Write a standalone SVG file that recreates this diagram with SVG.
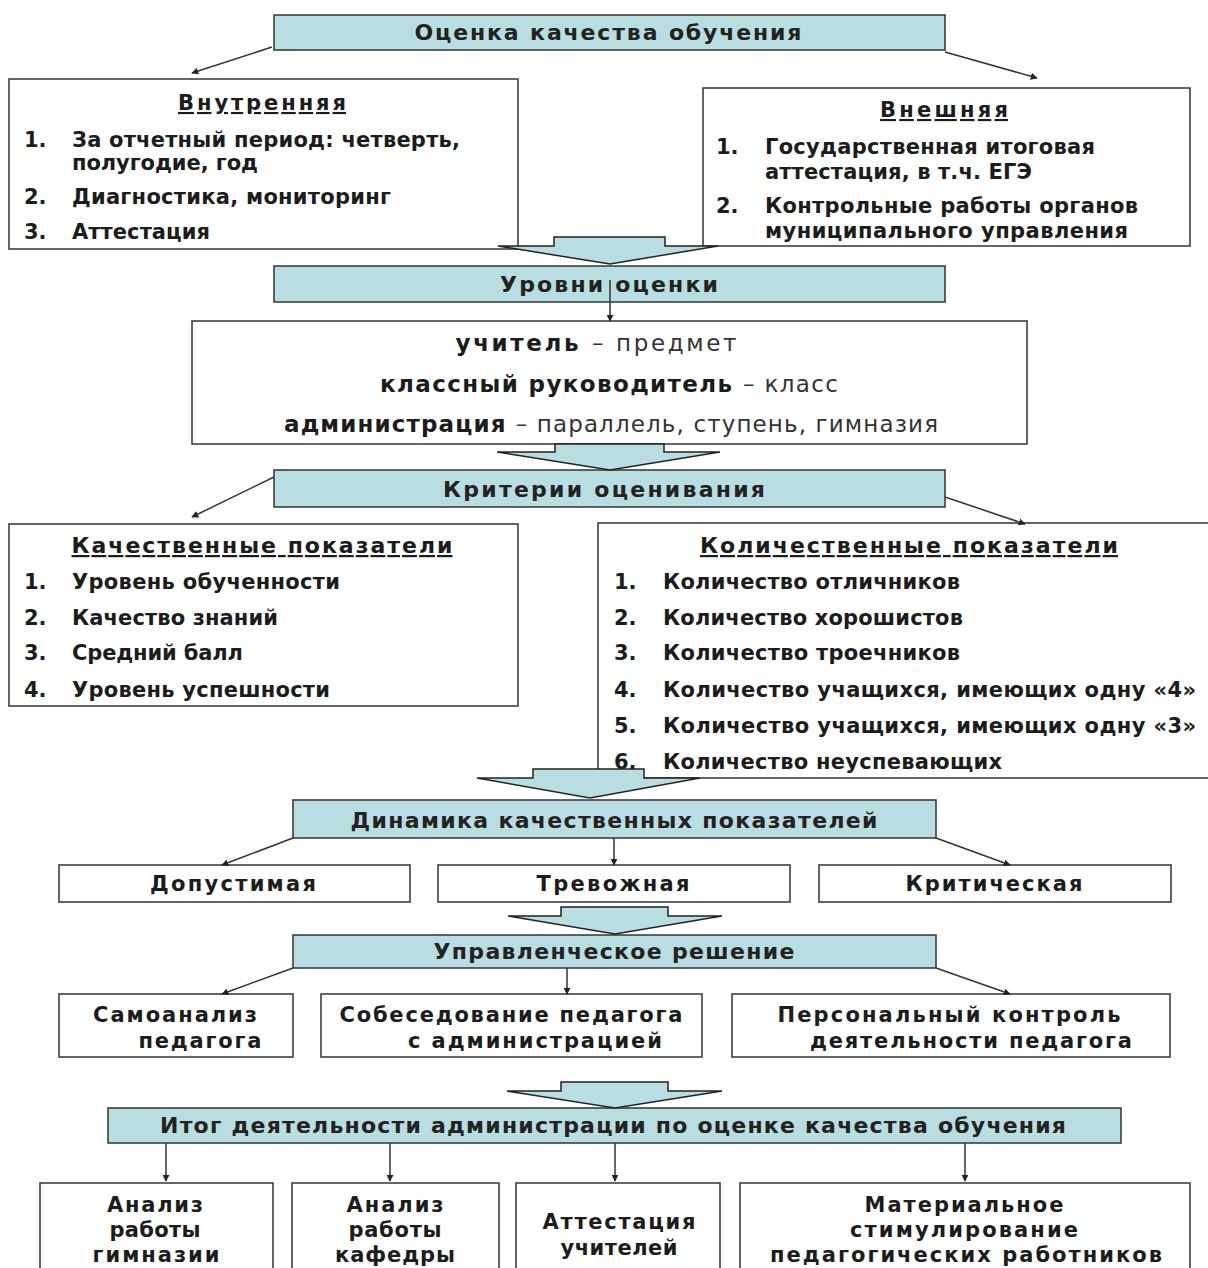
<svg xmlns="http://www.w3.org/2000/svg" width="1208" height="1268" viewBox="0 0 1208 1268">
<defs>
<style>
.box{fill:#fff;stroke:#333;stroke-width:1.5}
.teal{fill:#b9dee1;stroke:#333;stroke-width:1.5}
.blk{fill:#b9dee1;stroke:#222;stroke-width:1.5;stroke-linejoin:miter}
.t{font-family:"DejaVu Sans",Verdana,sans-serif;font-weight:bold;font-size:21px;fill:#1c1c1c}
.h{font-family:"DejaVu Sans",Verdana,sans-serif;font-weight:bold;font-size:22px;fill:#222}
.c{text-anchor:middle}
.u{text-decoration:underline}
.n{font-weight:normal;fill:#333}
.ln{fill:none;stroke:#333;stroke-width:1.5;marker-end:url(#ah)}
</style>
<marker id="ah" viewBox="0 0 10 10" refX="9" refY="5" markerWidth="7" markerHeight="7" markerUnits="userSpaceOnUse" orient="auto">
<path d="M0,0 L10,5 L0,10 z" fill="#222"/>
</marker>
</defs>
<rect width="1208" height="1268" fill="#fff"/>

<g id="n-top">
<rect class="teal" x="274" y="15" width="671" height="35"/>
<text class="h c" x="608" y="40" textLength="387" lengthAdjust="spacing">Оценка качества обучения</text>
</g>

<g id="n-internal">
<rect class="box" x="9" y="79" width="509" height="170"/>
<text class="t c u" x="262" y="110" textLength="168" lengthAdjust="spacing">Внутренняя</text>
<text class="t" x="24" y="147">1.</text>
<text class="t" x="72" y="147" textLength="388" lengthAdjust="spacing">За отчетный период: четверть,</text>
<text class="t" x="72" y="170" textLength="186" lengthAdjust="spacing">полугодие, год</text>
<text class="t" x="24" y="204">2.</text>
<text class="t" x="72" y="204" textLength="319" lengthAdjust="spacing">Диагностика, мониторинг</text>
<text class="t" x="24" y="239">3.</text>
<text class="t" x="72" y="239" textLength="138" lengthAdjust="spacing">Аттестация</text>
</g>

<g id="n-external">
<rect class="box" x="703" y="88" width="487" height="158"/>
<text class="t c u" x="944" y="117" textLength="128" lengthAdjust="spacing">Внешняя</text>
<text class="t" x="716" y="154">1.</text>
<text class="t" x="765" y="154" textLength="330" lengthAdjust="spacing">Государственная итоговая</text>
<text class="t" x="765" y="179" textLength="267" lengthAdjust="spacing">аттестация, в т.ч. ЕГЭ</text>
<text class="t" x="716" y="213">2.</text>
<text class="t" x="765" y="213" textLength="373" lengthAdjust="spacing">Контрольные работы органов</text>
<text class="t" x="765" y="238" textLength="363" lengthAdjust="spacing">муниципального управления</text>
</g>

<g id="n-levels">
<rect class="teal" x="274" y="266" width="671" height="36"/>
<text class="h c" x="609" y="292" textLength="218" lengthAdjust="spacing">Уровни оценки</text>
</g>

<g id="n-levels-list">
<rect class="box" x="192" y="321" width="835" height="123"/>
<text class="t c" x="596" y="351" style="font-size:23px" textLength="281" lengthAdjust="spacing">учитель <tspan class="n">– предмет</tspan></text>
<text class="t c" x="609" y="392" style="font-size:23px" textLength="458" lengthAdjust="spacing">классный руководитель <tspan class="n">– класс</tspan></text>
<text class="t c" x="611" y="432" style="font-size:23px" textLength="654" lengthAdjust="spacing">администрация <tspan class="n">– параллель, ступень, гимназия</tspan></text>
</g>

<g id="n-criteria">
<rect class="teal" x="274" y="470" width="671" height="37"/>
<text class="h c" x="604" y="497" textLength="322" lengthAdjust="spacing">Критерии оценивания</text>
</g>

<g id="n-qual">
<rect class="box" x="9" y="524" width="509" height="182"/>
<text class="t c u" x="262" y="553" style="font-size:22px" textLength="381" lengthAdjust="spacing">Качественные показатели</text>
<text class="t" x="24" y="589">1.</text>
<text class="t" x="72" y="589" textLength="268" lengthAdjust="spacing">Уровень обученности</text>
<text class="t" x="24" y="625">2.</text>
<text class="t" x="72" y="625" textLength="206" lengthAdjust="spacing">Качество знаний</text>
<text class="t" x="24" y="660">3.</text>
<text class="t" x="72" y="660" textLength="171" lengthAdjust="spacing">Средний балл</text>
<text class="t" x="24" y="697">4.</text>
<text class="t" x="72" y="697" textLength="258" lengthAdjust="spacing">Уровень успешности</text>
</g>

<g id="n-quant">
<rect class="box" x="598" y="523" width="620" height="255"/>
<text class="t c u" x="909" y="553" style="font-size:22px" textLength="418" lengthAdjust="spacing">Количественные показатели</text>
<text class="t" x="614" y="589">1.</text>
<text class="t" x="663" y="589" textLength="297" lengthAdjust="spacing">Количество отличников</text>
<text class="t" x="614" y="625">2.</text>
<text class="t" x="663" y="625" textLength="300" lengthAdjust="spacing">Количество хорошистов</text>
<text class="t" x="614" y="660">3.</text>
<text class="t" x="663" y="660" textLength="297" lengthAdjust="spacing">Количество троечников</text>
<text class="t" x="614" y="697">4.</text>
<text class="t" x="663" y="697" textLength="533" lengthAdjust="spacing">Количество учащихся, имеющих одну «4»</text>
<text class="t" x="614" y="733">5.</text>
<text class="t" x="663" y="733" textLength="533" lengthAdjust="spacing">Количество учащихся, имеющих одну «3»</text>
<text class="t" x="614" y="769">6.</text>
<text class="t" x="663" y="769" textLength="339" lengthAdjust="spacing">Количество неуспевающих</text>
</g>

<g id="n-dynamics">
<rect class="teal" x="293" y="800" width="643" height="38"/>
<text class="h c" x="614" y="828" textLength="527" lengthAdjust="spacing">Динамика качественных показателей</text>
</g>

<g id="n-acceptable">
<rect class="box" x="59" y="865" width="351" height="37"/>
<text class="t c" x="233" y="891" textLength="166" lengthAdjust="spacing">Допустимая</text>
</g>
<g id="n-alarming">
<rect class="box" x="438" y="865" width="352" height="37"/>
<text class="t c" x="613" y="891" textLength="153" lengthAdjust="spacing">Тревожная</text>
</g>
<g id="n-critical">
<rect class="box" x="819" y="865" width="352" height="37"/>
<text class="t c" x="994" y="891" textLength="177" lengthAdjust="spacing">Критическая</text>
</g>

<g id="n-decision">
<rect class="teal" x="293" y="935" width="643" height="33"/>
<text class="h c" x="614" y="959" textLength="361" lengthAdjust="spacing">Управленческое решение</text>
</g>

<g id="n-selfanalysis">
<rect class="box" x="59" y="994" width="234" height="63"/>
<text class="t c" x="175" y="1022" textLength="164" lengthAdjust="spacing">Самоанализ</text>
<text class="t c" x="200" y="1048" textLength="123" lengthAdjust="spacing">педагога</text>
</g>
<g id="n-interview">
<rect class="box" x="321" y="994" width="381" height="63"/>
<text class="t c" x="511" y="1022" textLength="343" lengthAdjust="spacing">Собеседование педагога</text>
<text class="t c" x="535" y="1048" textLength="254" lengthAdjust="spacing">с администрацией</text>
</g>
<g id="n-control">
<rect class="box" x="732" y="994" width="438" height="63"/>
<text class="t c" x="949" y="1022" textLength="343" lengthAdjust="spacing">Персональный контроль</text>
<text class="t c" x="971" y="1048" textLength="322" lengthAdjust="spacing">деятельности педагога</text>
</g>

<g id="n-result">
<rect class="teal" x="108" y="1108" width="1013" height="35"/>
<text class="h c" x="613" y="1133" textLength="906" lengthAdjust="spacing">Итог деятельности администрации по оценке качества обучения</text>
</g>

<g id="n-gym">
<rect class="box" x="40" y="1183" width="233" height="95"/>
<text class="t c" x="155" y="1212" textLength="96" lengthAdjust="spacing">Анализ</text>
<text class="t c" x="155" y="1237" textLength="91" lengthAdjust="spacing">работы</text>
<text class="t c" x="156" y="1262" textLength="127" lengthAdjust="spacing">гимназии</text>
</g>
<g id="n-dept">
<rect class="box" x="292" y="1183" width="207" height="95"/>
<text class="t c" x="395" y="1212" textLength="97" lengthAdjust="spacing">Анализ</text>
<text class="t c" x="395" y="1237" textLength="93" lengthAdjust="spacing">работы</text>
<text class="t c" x="395" y="1262" textLength="120" lengthAdjust="spacing">кафедры</text>
</g>
<g id="n-attest">
<rect class="box" x="516" y="1183" width="204" height="95"/>
<text class="t c" x="619" y="1229" textLength="153" lengthAdjust="spacing">Аттестация</text>
<text class="t c" x="619" y="1255" textLength="117" lengthAdjust="spacing">учителей</text>
</g>
<g id="n-stim">
<rect class="box" x="740" y="1183" width="450" height="95"/>
<text class="t c" x="964" y="1212" textLength="199" lengthAdjust="spacing">Материальное</text>
<text class="t c" x="964" y="1237" textLength="228" lengthAdjust="spacing">стимулирование</text>
<text class="t c" x="966" y="1262" textLength="392" lengthAdjust="spacing">педагогических работников</text>
</g>

<g id="connectors">
<line class="ln" x1="272" y1="47" x2="192" y2="73"/>
<line class="ln" x1="945" y1="52" x2="1037" y2="78"/>
<polygon class="blk" points="554,237 665,237 665,246 718,246 610,264 498,246 554,246"/>
<line class="ln" x1="610" y1="280" x2="610" y2="321"/>
<polygon class="blk" points="555,444 664,444 664,452 720,452 610,470 497,452 555,452"/>
<line class="ln" x1="274" y1="477" x2="192" y2="517"/>
<line class="ln" x1="945" y1="497" x2="1025" y2="524"/>
<polygon class="blk" points="533,769 644,769 644,778 700,778 590,798 477,778 533,778"/>
<line class="ln" x1="293" y1="838" x2="222" y2="865"/>
<line class="ln" x1="614" y1="838" x2="614" y2="865"/>
<line class="ln" x1="936" y1="838" x2="1010" y2="865"/>
<polygon class="blk" points="561,907 668,907 668,916 722,916 615,934 508,916 561,916"/>
<line class="ln" x1="293" y1="968" x2="222" y2="994"/>
<line class="ln" x1="567" y1="968" x2="567" y2="994"/>
<line class="ln" x1="936" y1="968" x2="1010" y2="994"/>
<polygon class="blk" points="561,1082 668,1082 668,1091 722,1091 615,1108 507,1091 561,1091"/>
<line class="ln" x1="166" y1="1143" x2="166" y2="1181"/>
<line class="ln" x1="390" y1="1143" x2="390" y2="1181"/>
<line class="ln" x1="615" y1="1143" x2="615" y2="1181"/>
<line class="ln" x1="965" y1="1143" x2="965" y2="1181"/>
</g>
</svg>
